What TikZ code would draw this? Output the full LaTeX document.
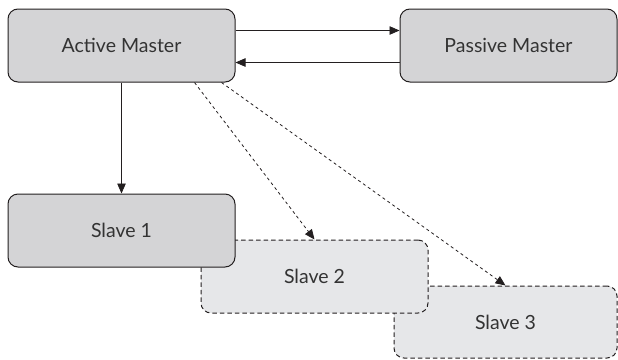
\documentclass[tikz,border=0pt]{standalone}
\usepackage{fontspec}
\setmainfont{Lato}
\usetikzlibrary{arrows.meta,positioning,calc}
\definecolor{boxfill}{RGB}{212,212,214}
\definecolor{boxlight}{RGB}{230,231,233}
\definecolor{edge}{RGB}{35,31,32}

\begin{document}
\begin{tikzpicture}[x=1pt,y=-1pt,font=\fontsize{19.5}{22}\selectfont,
  >={Triangle[length=10pt,width=8.5pt]},
  unit/.style={draw=edge,line width=1pt,rounded corners=10pt,minimum width=227pt,
    minimum height=73pt,inner sep=0pt,text=black!80},
  master/.style={unit,fill=boxfill},
  backup/.style={unit,fill=boxlight,dash pattern=on 4.5pt off 3pt},
  link/.style={->,draw=edge,line width=0.8pt},
  weak/.style={link,dash pattern=on 3pt off 3pt}]
\useasboundingbox (0,0) rectangle (618,359);
\node[backup,minimum width=223pt,minimum height=72pt] (s3) at (505.5,322) {Slave 3};
\node[backup] (s2) at (314.5,276.5) {Slave 2};
\node[master] (s1) at (121.5,230.5) {Slave 1};
\node[master] (am) at (121.5,45.5) {Active Master};
\node[master,minimum width=217pt] (pm) at (508.5,45.5) {Passive Master};
\draw[link] ([yshift=15pt]am.east) -- ([yshift=15pt]pm.west);
\draw[link] ([yshift=-17pt]pm.west) -- ([yshift=-17pt]am.east);
\draw[link] (am) -- (s1);
\draw[weak] ([xshift=73pt]am.south) -- (s2.north);
\draw[weak] ([xshift=100pt]am.south) -- (s3.north);
\end{tikzpicture}
\end{document}
